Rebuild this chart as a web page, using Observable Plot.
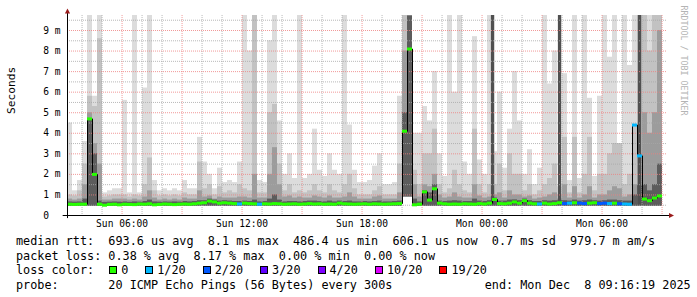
<!DOCTYPE html>
<html><head><meta charset="utf-8">
<script src="https://cdn.jsdelivr.net/npm/d3@7"></script>
<script src="https://cdn.jsdelivr.net/npm/@observablehq/plot@0.6"></script>
<style>
html,body{margin:0;padding:0;background:#fff;}
#chart{width:697px;height:297px;overflow:hidden;}
#chart svg{display:block;}
.legend{font-family:"DejaVu Sans Mono",monospace;font-size:11.8px;line-height:14.5px;height:14.5px;white-space:pre;margin:0 0 0 16px;color:#000;}
.box{display:inline-block;box-sizing:border-box;width:8px;height:8px;border:1px solid #000;}
</style></head><body><div id="chart"></div>
<script>
// time frame of the graph (30 hours, 15-minute columns)
const startTime = new Date(Date.UTC(2025, 11, 7, 3, 16, 19));
const endTime = new Date(Date.UTC(2025, 11, 8, 9, 16, 19));
const columnMinutes = 15;

// smoke: lowest ping, and upper edges of the smoke bands (ms)
const pingMin = [
0.45,0.45,0.45,0.45,0.45,0.45,0.45,0.45,0.45,0.45, 0.45,0.45,0.45,0.45,0.45,0.45,0.45,0.45,0.45,0.45,
0.45,0.45,0.45,0.45,0.45,0.45,0.45,0.45,0.45,0.45, 0.45,0.45,0.45,0.45,0.45,0.45,0.45,0.45,0.45,0.45,
0.45,0.45,0.45,0.45,0.45,0.45,0.45,0.45,0.45,0.45, 0.45,0.45,0.45,0.45,0.45,0.45,0.45,0.45,0.45,0.45,
0.45,0.45,0.45,0.45,0.45,0.45,0.45,0.9,0.9,0.45, 0.45,0.45,0.45,0.45,0.45,0.45,0.45,0.45,0.45,0.45,
0.45,0.45,0.45,0.45,0.45,0.45,0.45,0.45,0.45,0.45, 0.45,0.45,0.45,0.45,0.45,0.45,0.45,0.45,0.45,0.45,
0.45,0.45,0.45,0.45,0.45,0.45,0.45,0.45,0.45,0.45, 0.45,0.45,0.45,0.45,0.45,0.45,0.45,0.45,0.45];
const pingMax = [
4.5,1.2,1.7,3.6,10,5.8,10,1.1,1.2,1.3, 1.3,5.6,1.1,10,1.1,6.2,10,1.7,1.2,1.3,
1.2,1.3,1.2,1.7,1.3,1.3,3.8,2.6,2.0,1.3, 2.3,1.6,1.7,1.6,2.6,10,8.0,10,1.7,1.6,
8.5,10,4.6,2.0,3.0,1.8,10,1.8,2.0,4.2, 2.2,1.9,3.0,2.2,2.0,10,4.4,2.2,1.6,1.6,
1.7,2.4,3.0,1.5,1.5,1.6,5.8,10,10,4.0, 4.0,5.3,4.6,7.0,3.0,1.9,10,6.0,10,2.6,
2.0,8.7,2.7,2.0,10,3.1,6.0,2.3,4.2,7.0, 4.6,2.0,3.2,1.5,2.3,10,6.4,8.0,1.4,6.9,
1.7,10,1.8,10,5.7,1.9,5.8,10,7.7,10, 2.0,10,7.3,10,10,10,10,10,10];
const pingP90 = [
1.0,0.95,1.2,2.5,5.8,5.3,8.6,0.9,0.95,1.0, 1.0,1.0,0.9,1.0,0.95,1.5,2.8,1.2,0.95,1.0,
0.95,1.0,0.95,1.1,1.0,1.0,2.6,1.3,1.5,1.0, 1.4,1.1,1.2,1.1,1.5,1.3,1.2,10,1.1,1.1,
5.0,5.4,2.5,1.2,1.5,1.1,1.2,1.1,1.2,1.5, 1.2,1.1,1.5,1.2,1.1,1.5,2.0,1.3,1.0,1.0,
1.0,1.2,1.4,1.0,1.0,1.0,2.5,10,10,2.2, 1.5,3.0,3.0,4.2,1.5,1.1,1.3,2.2,1.5,1.2,
1.1,4.2,1.5,1.1,1.5,1.5,2.5,1.2,3.0,2.0, 2.0,1.2,1.5,1.0,1.2,1.5,1.8,2.5,1.0,3.8,
1.1,3.8,1.1,2.0,3.8,1.2,2.0,2.0,3.0,3.5, 3.5,1.5,2.0,4.4,10,10,8.0,10,10];
const pingP75 = [
0.8,0.75,0.8,1.5,5.0,3.5,2.5,0.75,0.75,0.8, 0.8,0.8,0.75,0.8,0.75,0.9,1.2,0.85,0.75,0.8,
0.75,0.8,0.75,0.85,0.8,0.8,1.2,0.9,0.95,0.8, 0.9,0.85,0.85,0.85,0.9,0.9,0.85,2.0,0.85,0.85,
2.0,3.3,1.5,0.9,0.95,0.85,0.9,0.85,0.85,0.95, 0.9,0.85,0.95,0.85,0.85,0.9,1.1,0.9,0.8,0.8,
0.8,0.9,0.95,0.8,0.8,0.8,1.1,8.0,10,1.5, 0.9,1.5,1.4,2.0,1.0,0.85,0.9,1.1,0.9,0.85,
0.85,1.5,0.95,0.85,0.9,1.0,1.1,0.85,1.2,1.0, 1.0,0.9,0.95,0.8,0.85,0.9,1.0,1.1,0.8,1.5,
0.85,1.4,0.85,1.0,1.4,0.85,1.0,1.0,1.2,1.4, 1.3,0.9,1.0,1.5,3.0,5.0,4.0,5.0,9.0];
const pingP60 = [
0.66,0.65,0.66,0.8,4.7,3.0,0.7,0.64,0.65,0.66, 0.65,0.66,0.64,0.66,0.65,0.68,0.75,0.66,0.65,0.66,
0.65,0.66,0.65,0.68,0.66,0.68,0.72,0.72,0.8,0.75, 0.7,0.72,0.7,0.68,0.68,0.7,0.68,0.75,0.66,0.68,
0.8,1.0,0.75,0.66,0.68,0.68,0.66,0.68,0.7,0.7, 0.68,0.66,0.7,0.66,0.7,0.68,0.7,0.66,0.66,0.68,
0.66,0.68,0.7,0.66,0.66,0.68,0.7,5.0,9.7,0.8, 0.66,1.2,1.1,1.5,0.7,0.68,0.7,0.72,0.7,0.68,
0.68,0.8,0.7,0.68,0.72,0.85,0.7,0.7,0.75,0.76, 0.72,0.8,0.72,0.68,0.68,0.72,0.7,0.72,0.72,0.72,
0.7,0.75,0.7,0.72,0.75,0.72,0.7,0.72,0.75,0.75, 0.72,0.7,0.7,1.0,1.5,1.5,1.2,1.5,2.5];
// median rtt (ms) and lost pings (out of 20) per column
const medianRtt = [
0.55,0.54,0.55,0.55,4.7,2.0,0.55,0.5,0.54,0.55, 0.52,0.55,0.54,0.53,0.56,0.55,0.57,0.52,0.54,0.56,
0.55,0.53,0.55,0.56,0.55,0.57,0.6,0.62,0.7,0.66, 0.6,0.62,0.6,0.58,0.56,0.6,0.58,0.57,0.55,0.57,
0.56,0.58,0.57,0.55,0.56,0.57,0.55,0.56,0.58,0.56, 0.57,0.55,0.56,0.55,0.6,0.57,0.56,0.55,0.56,0.57,
0.55,0.57,0.56,0.55,0.56,0.57,0.58,4.1,8.1,0.52, 0.55,1.15,0.75,1.3,0.6,0.57,0.55,0.56,0.55,0.57,
0.56,0.55,0.58,0.56,0.6,0.78,0.58,0.57,0.6,0.66, 0.6,0.72,0.6,0.57,0.56,0.6,0.56,0.58,0.62,0.58,
0.6,0.62,0.6,0.58,0.6,0.62,0.58,0.6,0.58,0.6, 0.57,0.56,0.55,4.4,2.9,0.8,0.72,0.85,0.95];
const lostPings = [
0,0,0,0,0,0,0,0,0,0, 0,0,0,0,0,0,0,0,0,0,
0,0,0,0,0,0,0,0,0,0, 0,0,0,0,1,0,0,0,1,0,
0,0,0,0,0,0,0,0,0,0, 0,0,0,0,0,0,0,0,0,0,
0,0,0,0,0,0,0,0,0,0, 0,0,0,0,0,0,0,0,0,0,
0,0,0,0,0,0,0,0,0,0, 0,0,0,0,1,0,0,0,0,2,
1,0,2,2,0,0,2,2,1,0, 2,1,1,1,1,0,0,0,0];
// steps where all pings scattered over the full range
const fullSmokeStarts = ["2025-12-08T00:28:00Z", "2025-12-08T03:49:00Z", "2025-12-08T07:49:00Z"];

// loss colour legend
const lossLevels = [0, 1, 2, 3, 4, 10, 19];
const lossLabels = ["0", "1/20", "2/20", "3/20", "4/20", "10/20", "19/20"];
const lossColors = ["#26ff00", "#00b8ff", "#0059ff", "#5e00ff", "#7e00ff", "#dd00ff", "#ff0000"];

// axes
const yTickValues = [0, 1, 2, 3, 4, 5, 6, 7, 8, 9];
const xLabelTimes = ["2025-12-07T06:00Z", "2025-12-07T12:00Z", "2025-12-07T18:00Z", "2025-12-08T00:00Z", "2025-12-08T06:00Z"].map(d => new Date(d));

// legend text
const statLines = [
  "median rtt:  693.6 us avg  8.1 ms max  486.4 us min  606.1 us now  0.7 ms sd  979.7 m am/s",
  "packet loss: 0.38 % avg  8.17 % max  0.00 % min  0.00 % now"
];
const probeLine = "probe:       20 ICMP Echo Pings (56 Bytes) every 300s             end: Mon Dec  8 09:16:19 2025";

const step = columnMinutes * 60e3;
function lossColor(n) { let c = lossColors[0]; lossLevels.forEach((l, i) => { if (n >= l) c = lossColors[i]; }); return c; }
const rows = pingMax.map((v, i) => ({
  t: new Date(+startTime + i * step), t2: new Date(+startTime + (i + 1) * step),
  lo: pingMin[i], p100: v, p90: pingP90[i], p75: pingP75[i], p60: pingP60[i],
  med: medianRtt[i], col: lossColor(lostPings[i])
}));
const fullSmoke = fullSmokeStarts.map(d => new Date(d));

const hours = d3.utcHour.range(startTime, endTime);
const minorHours = hours.filter(d => d.getUTCHours() % 3 !== 0);
const majorHours = hours.filter(d => d.getUTCHours() % 3 === 0);
const minorY = [0.5, 1.5, 2.5, 3.5, 4.5, 5.5, 6.5, 7.5, 8.5, 9.5];
const majorY = [1, 2, 3, 4, 5, 6, 7, 8, 9];

const band = (key, fill) => Plot.rect(rows, {x1: "t", x2: "t2", y1: "lo", y2: key, fill, inset: 0, clip: true});

const arrows = (index, {x, y}) => {
  const g = d3.create("svg:g");
  const xa = x(endTime) + 2, ya = y(0) + 0.5;
  g.append("path").attr("d", `M${xa},${ya - 2.6}L${xa + 5},${ya}L${xa},${ya + 2.6}Z`).attr("fill", "#9a1c1c");
  const xb = x(startTime) + 0.5, yb = y(9.73) - 1.5;
  g.append("path").attr("d", `M${xb - 2.6},${yb}L${xb},${yb - 5}L${xb + 2.6},${yb}Z`).attr("fill", "#9a1c1c");
  return g.node();
};

const chart = Plot.plot({
  width: 697, height: 234,
  marginLeft: 67, marginRight: 30, marginTop: 15, marginBottom: 19,
  style: {fontFamily: "'DejaVu Sans Mono', monospace", fontSize: "9.6px", background: "#fff", overflow: "visible", color: "#000"},
  x: {type: "utc", domain: [startTime, endTime]},
  y: {domain: [0, 9.73]},
  color: {type: "identity"},
  marks: [
    band("p100", "#dcdcdc"),
    band("p90", "#c2c2c2"),
    band("p75", "#9c9c9c"),
    band("p60", "#5c5c5c"),
    Plot.rect(fullSmoke, {x1: d => d, x2: d => new Date(+d + 10 * 60e3), y1: 0.5, y2: 10, fill: "#505050", inset: 0, clip: true}),
    Plot.gridX(minorHours, {stroke: "#a8a8a8", strokeOpacity: 0.8, strokeDasharray: "1,1"}),
    Plot.gridY(minorY, {stroke: "#a8a8a8", strokeOpacity: 0.8, strokeDasharray: "1,1"}),
    Plot.gridX(majorHours, {stroke: "#ee8080", strokeOpacity: 0.8, strokeDasharray: "1,1"}),
    Plot.gridY(majorY, {stroke: "#ee8080", strokeOpacity: 0.8, strokeDasharray: "1,1"}),
    Plot.line(rows, {x: "t", y: "med", curve: "step-after", stroke: "#000", strokeWidth: 1, clip: true}),
    Plot.ruleY(rows, {x1: "t", x2: "t2", y: "med", stroke: "col", strokeWidth: 3, clip: true}),
    Plot.ruleY([0], {x1: new Date(+startTime - 13 * 60e3), x2: new Date(+endTime + 6 * 60e3), stroke: "#000"}),
    Plot.ruleX([startTime], {y1: -0.15, y2: 9.85, stroke: "#000"}),
    arrows,
    Plot.axisY(yTickValues, {tickSize: 0, tickPadding: 7, tickFormat: d => d === 0 ? "0\u00a0\u00a0" : d + " m", fontSize: 9.6}),
    Plot.axisX(xLabelTimes, {tickSize: 0, tickPadding: 5, tickFormat: d3.utcFormat("%a %H:%M"), fontSize: 9.6}),
    Plot.text(["Seconds"], {frameAnchor: "left", dx: -56.5, dy: -1.5, rotate: -90, fontSize: 11.2, fill: "#000"}),
    Plot.text(["RRDTOOL / TOBI OETIKER"], {frameAnchor: "top-right", dx: 19, dy: -10, rotate: 90, textAnchor: "start", fontSize: 8.3, fill: "#b4b4b4"})
  ]
});
const root = document.getElementById("chart");
root.append(chart);
statLines.forEach(s => { const d = document.createElement("div"); d.className = "legend"; d.textContent = s; root.append(d); });
const lossRow = document.createElement("div");
lossRow.className = "legend";
lossRow.append("loss color:");
lossLabels.forEach((lab, i) => {
  const b = document.createElement("span");
  b.className = "box"; b.style.background = lossColors[i]; b.style.marginLeft = i === 0 ? "15px" : "17px";
  const s = document.createElement("span");
  s.textContent = lab; s.style.marginLeft = "4px";
  lossRow.append(b, s);
});
root.append(lossRow);
const p = document.createElement("div"); p.className = "legend"; p.textContent = probeLine; root.append(p);
</script></body></html>
